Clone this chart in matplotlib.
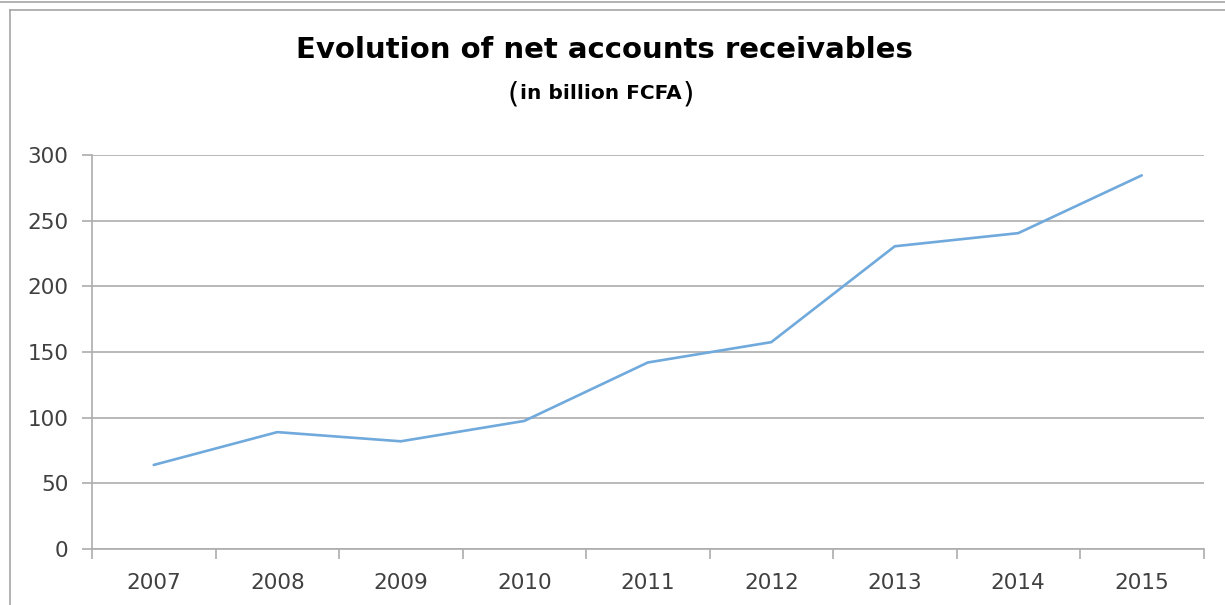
import matplotlib
matplotlib.use("Agg")
import matplotlib.pyplot as plt
from matplotlib.lines import Line2D
import numpy as np

years = ["2007", "2008", "2009", "2010", "2011", "2012", "2013", "2014", "2015"]
receivables = [64, 89, 82, 97.5, 142, 157.5, 230.5, 240.5, 284.5]
yticks = [0, 50, 100, 150, 200, 250, 300]

W, H = 1225, 605
FONT = "DejaVu Sans"
fig = plt.figure(figsize=(W / 100, H / 100), dpi=100)
fig.patch.set_facecolor("white")

ax = fig.add_axes([92 / W, 1 - 549 / H, (1203.5 - 92) / W, (549 - 155) / H])
x = np.arange(len(years))
ax.plot(x, receivables, color="#70A9DC", lw=1.9, solid_capstyle="round")

ax.set_xlim(-0.5, len(years) - 0.5)
ax.set_ylim(0, 300)
ax.set_yticks(yticks)
ax.set_xticks(x)
ax.set_xticklabels(years)
ax.set_xticks(np.arange(-0.5, len(years), 1), minor=True)

grid_c = "#ADADAD"
text_c = "#404040"
ax.yaxis.grid(True, color=grid_c, lw=1.2)
ax.set_axisbelow(True)
for s in ["top", "right"]:
    ax.spines[s].set_visible(False)
for s in ["left", "bottom"]:
    ax.spines[s].set_color(grid_c)
    ax.spines[s].set_linewidth(1.2)

ax.tick_params(axis="y", which="major", length=7, width=1.2, color=grid_c,
               labelsize=15.5, labelcolor=text_c, pad=10)
ax.tick_params(axis="x", which="major", length=0, labelsize=15.5,
               labelcolor=text_c, pad=17)
ax.tick_params(axis="x", which="minor", length=7, width=1.2, color=grid_c)
for lab in ax.get_xticklabels() + ax.get_yticklabels():
    lab.set_family(FONT)

# Title
fig.text(604 / W, 1 - 50 / H, "Evolution of net accounts receivables",
         ha="center", va="center", fontsize=21, fontweight="bold",
         family=FONT, color="black")
t1 = fig.text(507 / W, 1 - 95 / H, "(", ha="left", va="center",
              fontsize=21, family=FONT, color="black")
t2 = ax.annotate("in billion FCFA", xy=(1, 0.5), xycoords=t1,
                 xytext=(1, 1), textcoords="offset points",
                 ha="left", va="center", fontsize=14.5, fontweight="bold",
                 family=FONT, color="black", annotation_clip=False)
ax.annotate(")", xy=(1, 0.5), xycoords=t2, xytext=(1, -1),
            textcoords="offset points", ha="left", va="center",
            fontsize=21, family=FONT, color="black", annotation_clip=False)

# Frame lines
border_c = "#A6A6A6"
fig.add_artist(Line2D([0, 1], [1 - 2 / H, 1 - 2 / H], transform=fig.transFigure,
                      color=border_c, lw=1.2))
fig.add_artist(Line2D([10 / W, 1], [1 - 10 / H, 1 - 10 / H], transform=fig.transFigure,
                      color=border_c, lw=1.2))
fig.add_artist(Line2D([10 / W, 10 / W], [0, 1 - 10 / H], transform=fig.transFigure,
                      color=border_c, lw=1.2))

fig.savefig("out.png", dpi=100, facecolor="white")
